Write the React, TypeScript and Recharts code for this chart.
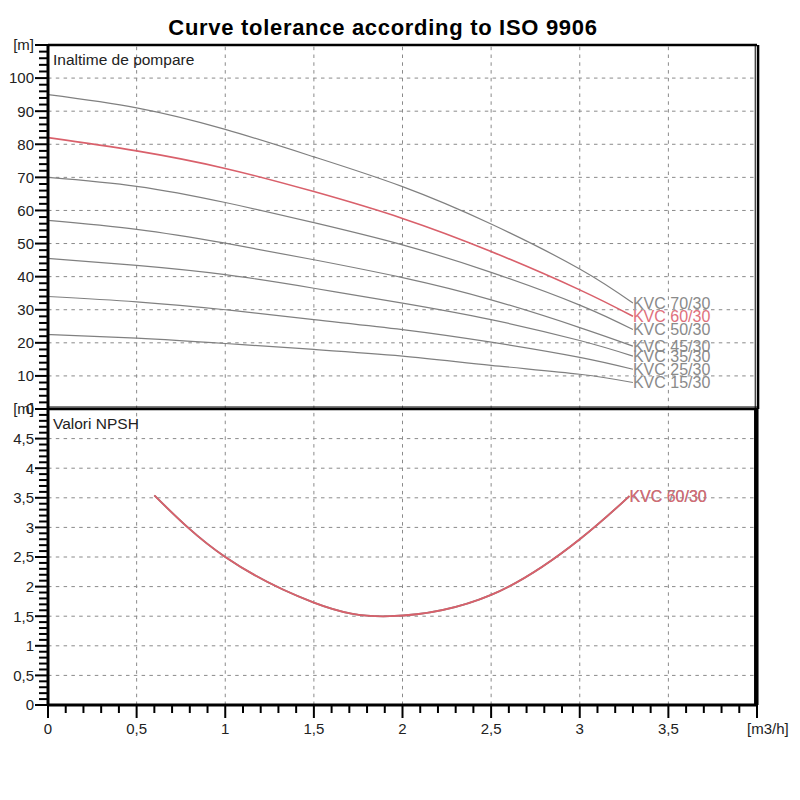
import React from 'react';
import { LineChart, Line, XAxis, YAxis, CartesianGrid, ReferenceLine } from 'recharts';

// ---- data ----
const flowQ = [0, 0.5, 1, 1.5, 2, 2.5, 3, 3.3];
const head70 = [95, 91, 84.5, 76.2, 67.2, 55.9, 42.3, 32];
const head60 = [82, 78, 72.7, 65.7, 57.6, 47.6, 36, 28];
const head50 = [70, 67.3, 62.4, 56.3, 49.6, 41.3, 31.4, 24];
const head45 = [57, 54.3, 50.1, 45.1, 39.7, 33, 24.6, 19];
const head35 = [45.5, 43.4, 40.6, 36.5, 32, 27, 20.7, 16];
const head25 = [34, 32.4, 30, 27, 24, 20.2, 15.6, 12];
const head15 = [22.5, 21.4, 19.8, 18, 16, 13.2, 10.5, 8];

const npshQ = [0.6, 1.0, 1.5, 1.93, 2.5, 3.0, 3.28];
const npshV = [3.54, 2.5, 1.73, 1.5, 1.86, 2.8, 3.53];

const topTickLabels = ['0', '10', '20', '30', '40', '50', '60', '70', '80', '90', '100', '[m]'];
const npshTickLabels = ['0', '0,5', '1', '1,5', '2', '2,5', '3', '3,5', '4', '4,5', '[m]'];
const flowTickLabels = ['0', '0,5', '1', '1,5', '2', '2,5', '3', '3,5', '[m3/h]'];

const topTicks = Array.from({ length: 56 }, (_, i) => i * 2); // 0..110 step 2
const npshTicks = Array.from({ length: 51 }, (_, i) => i / 10); // 0..5 step 0.1
const flowTicks = Array.from({ length: 41 }, (_, i) => i / 10); // 0..4 step 0.1
const gridQ = [0.5, 1, 1.5, 2, 2.5, 3, 3.5];
const gridTop = [10, 20, 30, 40, 50, 60, 70, 80, 90, 100];
const gridNpsh = [0.5, 1, 1.5, 2, 2.5, 3, 3.5, 4, 4.5];

const GRAY = '#808080';
const RED = '#d9606b';
const GRID = '#8a8a8a';
const DASH = '3.5 4.3';
const FONT = '"Liberation Sans", Arial, sans-serif';

const pts = (q: number[], v: number[]) => q.map((x, i) => ({ q: x, v: v[i] }));

const headSeries = [
  { name: 'KVC 70/30', values: head70, color: GRAY, text: '#8a8a8a' },
  { name: 'KVC 50/30', values: head50, color: GRAY, text: '#8a8a8a' },
  { name: 'KVC 45/30', values: head45, color: GRAY, text: '#8a8a8a' },
  { name: 'KVC 35/30', values: head35, color: GRAY, text: '#8a8a8a' },
  { name: 'KVC 25/30', values: head25, color: GRAY, text: '#8a8a8a' },
  { name: 'KVC 15/30', values: head15, color: GRAY, text: '#8a8a8a' },
  { name: 'KVC 60/30', values: head60, color: RED, text: '#e0707c' },
];

const npshSeries = [
  { name: 'KVC 70/30', values: npshV, color: GRAY, text: '#8a8a8a' },
  { name: 'KVC 60/30', values: npshV, color: RED, text: '#d86a74' },
];

const endLabel = (name: string, color: string, last: number) => (p: any) => {
  if (p.index !== last) return <g />;
  return (
    <text x={p.x} y={p.y} dy="0.35em" fill={color} fontSize={16} fontFamily={FONT} textAnchor="start">
      {name}
    </text>
  );
};

const TopYTick = (p: any) => {
  const { x, y, payload } = p;
  const v = payload.value;
  const major = v % 10 === 0;
  const label = major ? topTickLabels[v / 10] : '';
  return (
    <g>
      <line x1={x - (major ? 13 : 9)} x2={x} y1={y} y2={y} stroke="#000" strokeWidth={2} />
      {label ? (
        <text x={x - 14} y={y} dy="0.36em" textAnchor="end" fontSize={15} fill="#222" fontFamily={FONT}>
          {label}
        </text>
      ) : null}
    </g>
  );
};

const NpshYTick = (p: any) => {
  const { x, y, payload } = p;
  const k = Math.round(payload.value * 10);
  const major = k % 5 === 0;
  const label = major ? npshTickLabels[k / 5] : '';
  return (
    <g>
      <line x1={x - (major ? 13 : 9)} x2={x} y1={y} y2={y} stroke="#000" strokeWidth={2} />
      {label ? (
        <text x={x - 14} y={y} dy="0.36em" textAnchor="end" fontSize={15} fill="#222" fontFamily={FONT}>
          {label}
        </text>
      ) : null}
    </g>
  );
};

const FlowXTick = (p: any) => {
  const { x, y, payload } = p;
  const k = Math.round(payload.value * 10);
  const major = k % 5 === 0;
  const idx = k / 5;
  const label = major ? flowTickLabels[idx] : '';
  const isUnit = idx === flowTickLabels.length - 1;
  return (
    <g>
      <line x1={x} x2={x} y1={y} y2={y + (major ? 13 : 8)} stroke="#000" strokeWidth={2} />
      {label ? (
        <text
          x={isUnit ? x - 10 : x}
          y={y + 29}
          textAnchor={isUnit ? 'start' : 'middle'}
          fontSize={15}
          fill="#222"
          fontFamily={FONT}
        >
          {label}
        </text>
      ) : null}
    </g>
  );
};

export default function App() {
  return (
    <div style={{ position: 'absolute', left: 0, top: 0, width: 800, height: 800, background: '#fff' }}>
      <div style={{ position: 'absolute', left: 0, top: 0 }}>
        <LineChart width={800} height={420} margin={{ top: 45, right: 43, bottom: 11, left: 0 }}>
          <XAxis xAxisId="m" dataKey="q" type="number" domain={[0, 4]} allowDataOverflow hide height={0} />
          <YAxis yAxisId="g" type="number" domain={[0, 110]} ticks={gridTop} allowDataOverflow hide width={0} />
          <YAxis
            yAxisId="m"
            type="number"
            domain={[0, 110]}
            ticks={topTicks}
            interval={0}
            width={48}
            tickSize={0}
            tickMargin={0}
            tickLine={false}
            axisLine={{ stroke: '#000', strokeWidth: 3 }}
            tick={(p: any) => <TopYTick {...p} />}
            allowDataOverflow
          />
          <CartesianGrid xAxisId="m" yAxisId="g" vertical={false} stroke={GRID} strokeDasharray={DASH} />
          {gridQ.map((q) => (
            <ReferenceLine key={'v' + q} xAxisId="m" yAxisId="m" x={q} stroke={GRID} strokeDasharray={DASH} />
          ))}
          <ReferenceLine xAxisId="m" yAxisId="m" y={110} stroke="#000" strokeWidth={2.5} ifOverflow="visible" />
          <ReferenceLine xAxisId="m" yAxisId="m" y={0.6} stroke="#000" strokeWidth={1} ifOverflow="visible" />
          <ReferenceLine xAxisId="m" yAxisId="m" x={3.99} stroke="#000" strokeWidth={1} ifOverflow="visible" />
          <ReferenceLine xAxisId="m" yAxisId="m" x={4.006} stroke="#000" strokeWidth={2.5} ifOverflow="visible" />
          {headSeries.map((s) => (
            <Line
              key={s.name}
              xAxisId="m"
              yAxisId="m"
              data={pts(flowQ, s.values)}
              dataKey="v"
              type="natural"
              stroke={s.color}
              strokeWidth={s.color === RED ? 1.6 : 1.2}
              dot={false}
              isAnimationActive={false}
              label={endLabel(s.name, s.text, flowQ.length - 1)}
            />
          ))}
        </LineChart>
      </div>
      <div style={{ position: 'absolute', left: 0, top: 400 }}>
        <LineChart width={800} height={400} margin={{ top: 9, right: 43, bottom: 55, left: 0 }}>
          <XAxis
            xAxisId="m"
            dataKey="q"
            type="number"
            domain={[0, 4]}
            ticks={flowTicks}
            interval={0}
            height={40}
            tickSize={0}
            tickMargin={0}
            tickLine={false}
            axisLine={{ stroke: '#000', strokeWidth: 3 }}
            tick={(p: any) => <FlowXTick {...p} />}
            allowDataOverflow
          />
          <YAxis yAxisId="g" type="number" domain={[0, 5]} ticks={gridNpsh} allowDataOverflow hide width={0} />
          <YAxis
            yAxisId="m"
            type="number"
            domain={[0, 5]}
            ticks={npshTicks}
            interval={0}
            width={48}
            tickSize={0}
            tickMargin={0}
            tickLine={false}
            axisLine={{ stroke: '#000', strokeWidth: 3 }}
            tick={(p: any) => <NpshYTick {...p} />}
            allowDataOverflow
          />
          <CartesianGrid xAxisId="m" yAxisId="g" vertical={false} stroke={GRID} strokeDasharray={DASH} />
          {gridQ.map((q) => (
            <ReferenceLine key={'v' + q} xAxisId="m" yAxisId="m" x={q} stroke={GRID} strokeDasharray={DASH} />
          ))}
          <ReferenceLine xAxisId="m" yAxisId="m" y={5} stroke="#000" strokeWidth={2.5} ifOverflow="visible" />
          <ReferenceLine xAxisId="m" yAxisId="m" x={3.996} stroke="#000" strokeWidth={4.5} ifOverflow="visible" />
          {npshSeries.map((s) => (
            <Line
              key={s.name}
              xAxisId="m"
              yAxisId="m"
              data={pts(npshQ, s.values)}
              dataKey="v"
              type="natural"
              stroke={s.color}
              strokeWidth={1.8}
              dot={false}
              isAnimationActive={false}
              label={endLabel(s.name, s.text, npshQ.length - 1)}
            />
          ))}
        </LineChart>
      </div>
      <svg
        width={800}
        height={800}
        style={{ position: 'absolute', left: 0, top: 0, pointerEvents: 'none' }}
      >
        <text x={383} y={35} textAnchor="middle" fontSize={22} fontWeight="bold" fontFamily={FONT} fill="#000" letterSpacing={0.7}>
          Curve tolerance according to ISO 9906
        </text>
        <text x={53} y={65} fontSize={15.5} fontFamily={FONT} fill="#222">
          Inaltime de pompare
        </text>
        <text x={53} y={429} fontSize={15.5} fontFamily={FONT} fill="#222">
          Valori NPSH
        </text>
      </svg>
    </div>
  );
}
